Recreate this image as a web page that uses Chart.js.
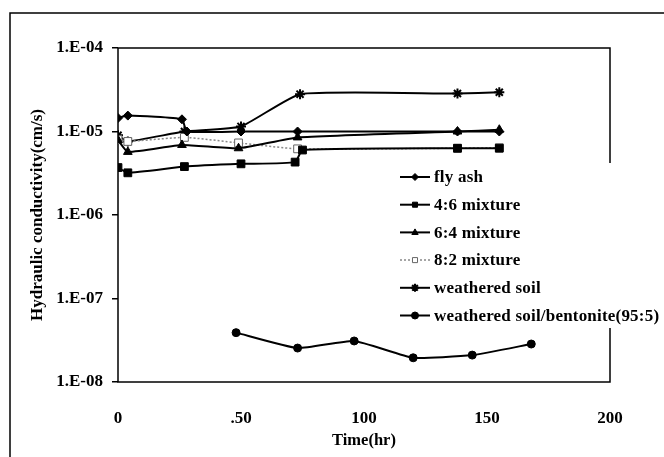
<!DOCTYPE html>
<html>
<head>
<meta charset="utf-8">
<script src="https://cdn.jsdelivr.net/npm/chart.js@4/dist/chart.umd.min.js"></script>
<style>
html,body{margin:0;padding:0;background:#fff;}
#wrap{width:664px;height:457px;position:relative;}
</style>
</head>
<body>
<div id="wrap"><canvas id="c" width="664" height="457"></canvas></div>
<script>
// ---- data ----
const seriesNames = ['fly ash','4:6 mixture','6:4 mixture','8:2 mixture','weathered soil','weathered soil/bentonite(95:5)'];

const flyAshTime = [0, 4, 26, 28, 50, 73, 138, 155];
const flyAshK    = [1.45e-5, 1.55e-5, 1.4e-5, 1.0e-5, 1.0e-5, 1.0e-5, 1.0e-5, 1.0e-5];

const mix46Time = [0, 4, 27, 50, 72, 75, 138, 155];
const mix46K    = [3.7e-6, 3.2e-6, 3.8e-6, 4.1e-6, 4.3e-6, 6.0e-6, 6.3e-6, 6.3e-6];

const mix64Time = [0, 4, 26, 49, 73, 138, 155];
const mix64K    = [7.9e-6, 5.7e-6, 6.9e-6, 6.3e-6, 8.5e-6, 1.0e-5, 1.05e-5];

const mix82Time = [0, 4, 27, 49, 73, 138, 155];
const mix82K    = [8.0e-6, 7.6e-6, 8.5e-6, 7.3e-6, 6.2e-6, 6.3e-6, 6.4e-6];

const soilTime = [0, 4, 27, 50, 74, 138, 155];
const soilK    = [9.0e-6, 7.6e-6, 1.0e-5, 1.15e-5, 2.8e-5, 2.85e-5, 2.95e-5];

const bentTime = [48, 73, 96, 120, 144, 168];
const bentK    = [3.9e-8, 2.55e-8, 3.1e-8, 1.95e-8, 2.1e-8, 2.85e-8];

const xTickValues = [0, 50, 100, 150, 200];
const xTickLabels = ['0', '.50', '100', '150', '200'];
const yTickValues = [1e-8, 1e-7, 1e-6, 1e-5, 1e-4];
const yTickLabels = ['1.E-08', '1.E-07', '1.E-06', '1.E-05', '1.E-04'];

const xTitle = 'Time(hr)';
const yTitle = 'Hydraulic conductivity(cm/s)';

// ---- build ----
function pts(t, k){ return t.map((v,i)=>({x:v, y:k[i]})); }
const FONT = "'Liberation Serif','Times New Roman',serif";

const styles = [
  {pointStyle:'rectRot', radius:4.5, bg:'#000', border:'#000', bw:1, line:'#000', lw:2, dash:[]},
  {pointStyle:'rect', radius:5.5, bg:'#000', border:'#000', bw:1, line:'#000', lw:2, dash:[]},
  {pointStyle:'triangle', radius:5, bg:'#000', border:'#000', bw:1, line:'#000', lw:2, dash:[]},
  {pointStyle:'rect', radius:5.5, bg:'#fff', border:'#666', bw:1, line:'#888', lw:1.5, dash:[2,2]},
  {pointStyle:'star', radius:5, bg:'#000', border:'#000', bw:2, line:'#000', lw:2, dash:[]},
  {pointStyle:'circle', radius:4, bg:'#000', border:'#000', bw:1, line:'#000', lw:2, dash:[]}
];
const dataSets = [
  pts(flyAshTime, flyAshK), pts(mix46Time, mix46K), pts(mix64Time, mix64K),
  pts(mix82Time, mix82K), pts(soilTime, soilK), pts(bentTime, bentK)
];

const datasets = dataSets.map((d,i)=>({
  label: seriesNames[i],
  data: d,
  showLine: true,
  tension: 0.15,
  borderColor: styles[i].line,
  borderWidth: styles[i].lw,
  borderDash: styles[i].dash,
  pointStyle: styles[i].pointStyle,
  pointRadius: styles[i].radius,
  pointBackgroundColor: styles[i].bg,
  pointBorderColor: styles[i].border,
  pointBorderWidth: styles[i].bw
}));

function drawMarker(ctx, st, x, y, r){
  ctx.save();
  ctx.fillStyle = st.bg; ctx.strokeStyle = st.border; ctx.lineWidth = st.bw; ctx.setLineDash([]);
  ctx.beginPath();
  if (st.pointStyle === 'rectRot'){
    ctx.moveTo(x, y-r); ctx.lineTo(x+r, y); ctx.lineTo(x, y+r); ctx.lineTo(x-r, y); ctx.closePath();
    ctx.fill(); ctx.stroke();
  } else if (st.pointStyle === 'rect'){
    const s = r*0.72; ctx.rect(x-s, y-s, 2*s, 2*s); ctx.fill(); ctx.stroke();
  } else if (st.pointStyle === 'triangle'){
    ctx.moveTo(x, y-r); ctx.lineTo(x+r*0.9, y+r*0.6); ctx.lineTo(x-r*0.9, y+r*0.6); ctx.closePath();
    ctx.fill(); ctx.stroke();
  } else if (st.pointStyle === 'star'){
    ctx.moveTo(x-r, y); ctx.lineTo(x+r, y);
    ctx.moveTo(x-r*0.7, y-r*0.7); ctx.lineTo(x+r*0.7, y+r*0.7);
    ctx.moveTo(x-r*0.7, y+r*0.7); ctx.lineTo(x+r*0.7, y-r*0.7);
    ctx.moveTo(x, y-r); ctx.lineTo(x, y+r);
    ctx.stroke();
  } else {
    ctx.arc(x, y, r, 0, Math.PI*2); ctx.fill(); ctx.stroke();
  }
  ctx.restore();
}

const framePlugin = {
  id: 'frame',
  beforeDatasetsDraw(chart){
    const ctx = chart.ctx, a = chart.chartArea;
    ctx.save();
    ctx.strokeStyle = '#000'; ctx.lineWidth = 1.5;
    ctx.strokeRect(a.left, a.top, a.right - a.left, a.bottom - a.top);
    // outer border (left and top)
    ctx.beginPath();
    ctx.moveTo(10, 457); ctx.lineTo(10, 13); ctx.lineTo(664, 13);
    ctx.stroke();
    ctx.restore();
  },
  afterDraw(chart){
    const ctx = chart.ctx;
    ctx.save();
    ctx.fillStyle = '#fff';
    ctx.fillRect(396, 163, 268, 165);
    ctx.font = "bold 17px " + FONT;
    if ('letterSpacing' in ctx) ctx.letterSpacing = '0.2px';
    ctx.textBaseline = 'middle';
    ctx.fillStyle = '#000';
    for (let i = 0; i < seriesNames.length; i++){
      const y = 177 + i * 27.7;
      const st = styles[i];
      ctx.save();
      ctx.strokeStyle = st.line; ctx.lineWidth = st.lw; ctx.setLineDash(st.dash);
      ctx.beginPath(); ctx.moveTo(400, y); ctx.lineTo(430, y); ctx.stroke();
      ctx.restore();
      drawMarker(ctx, st, 415, y, st.pointStyle==='star'?4:3.5);
      ctx.fillStyle = '#000';
      ctx.fillText(seriesNames[i], 434, y + 1);
    }
    ctx.restore();
  }
};

new Chart(document.getElementById('c'), {
  type: 'scatter',
  data: { datasets },
  options: {
    responsive: false,
    animation: false,
    events: [],
    layout: { padding: { left: 0, top: 48, right: 54, bottom: 0 } },
    plugins: { legend: { display: false }, tooltip: { enabled: false } },
    scales: {
      x: {
        type: 'linear', min: 0, max: 200,
        afterBuildTicks: s => { s.ticks = xTickValues.map(v => ({ value: v })); },
        afterFit: s => { s.height = 75; },
        grid: { display: false },
        border: { display: false },
        ticks: {
          color: '#000', padding: 18, maxRotation: 0, autoSkip: false,
          font: { family: FONT, size: 17, weight: 'bold' },
          callback: (v, i) => xTickLabels[i]
        },
        title: { display: true, text: xTitle, color: '#000', padding: { top: 0, bottom: 6 },
          font: { family: FONT, size: 16.5, weight: 'bold' } }
      },
      y: {
        type: 'logarithmic', min: 1e-8, max: 1e-4,
        afterBuildTicks: s => { s.ticks = yTickValues.map(v => ({ value: v })); },
        afterFit: s => { s.width = 118; },
        grid: { display: true, drawOnChartArea: false, drawTicks: true, tickLength: 6, color: '#000', lineWidth: 1.5 },
        border: { display: false },
        ticks: {
          color: '#000', padding: 9, autoSkip: false,
          font: { family: FONT, size: 17, weight: 'bold' },
          callback: (v, i) => yTickLabels[i]
        },
        title: { display: true, text: yTitle, color: '#000', padding: { top: 27, bottom: 0 },
          font: { family: FONT, size: 17, weight: 'bold' } }
      }
    }
  },
  plugins: [framePlugin]
});
</script>
</body>
</html>
